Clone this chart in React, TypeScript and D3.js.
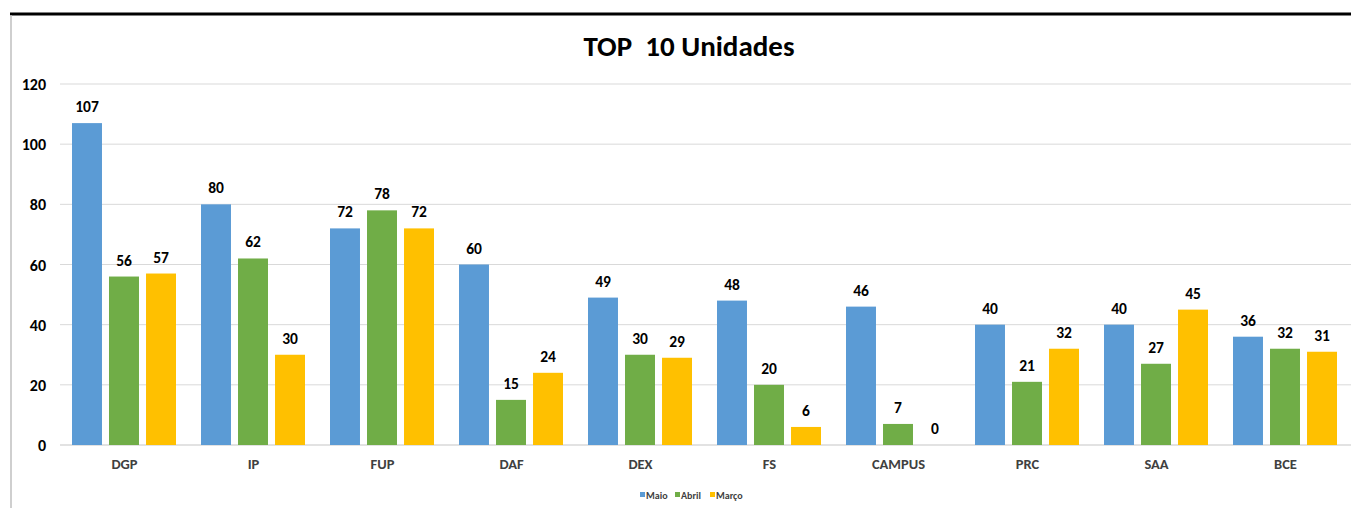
import React from "react";
import * as d3 from "d3";

const categories = ["DGP", "IP", "FUP", "DAF", "DEX", "FS", "CAMPUS", "PRC", "SAA", "BCE"];
const seriesNames = ["Maio", "Abril", "Março"];
const maio = [107, 80, 72, 60, 49, 48, 46, 40, 40, 36];
const abril = [56, 62, 78, 15, 30, 20, 7, 21, 27, 32];
const marco = [57, 30, 72, 24, 29, 6, 0, 32, 45, 31];
const yTicks = [0, 20, 40, 60, 80, 100, 120];
const colors = ["#5B9BD5", "#70AD47", "#FFC000"];

export default function App() {
  const W = 1351, H = 508;
  const series = [maio, abril, marco];
  const x0 = d3.scaleBand().domain(categories).range([60, 1350]).paddingInner(0).paddingOuter(0);
  const inner = d3.scaleBand().domain(seriesNames).range([12, x0.bandwidth() - 13]).paddingInner(0.19);
  const y = d3.scaleLinear().domain([0, 120]).range([445, 84]);
  const font = "Calibri, Carlito, Lato, 'Open Sans', 'Liberation Sans', sans-serif";
  return (
    <svg width={W} height={H} style={{ position: "absolute", left: 0, top: 0, background: "#fff" }}>
      <rect x={0} y={0} width={W} height={H} fill="#fff" />
      <line x1={10} x2={W} y1={14} y2={14} stroke="#000" strokeWidth={3} />
      <line x1={11} x2={11} y1={15} y2={H} stroke="#BFBFBF" strokeWidth={1.5} />
      <text x={689} y={56} textAnchor="middle" fontFamily={font} fontWeight="bold" fontSize={29} fill="#000" style={{ whiteSpace: "pre" }}>
        TOP  10 Unidades
      </text>
      {yTicks.map((t) => (
        <g key={t}>
          <line x1={60} x2={W} y1={y(t)} y2={y(t)} stroke="#D9D9D9" strokeWidth={t === 0 ? 1.5 : 1} />
          <text x={46} y={y(t) + 6} textAnchor="end" fontFamily={font} fontWeight="bold" fontSize={16} fill="#000">
            {t}
          </text>
        </g>
      ))}
      {categories.map((c, i) => (
        <g key={c} transform={`translate(${x0(c)},0)`}>
          {series.map((s, k) => {
            const v = s[i];
            const bx = inner(seriesNames[k])!;
            const bw = inner.bandwidth();
            return (
              <g key={k}>
                <rect x={bx} y={y(v)} width={bw} height={y(0) - y(v)} fill={colors[k]} />
                <text x={bx + bw / 2} y={y(v) - 11} textAnchor="middle" fontFamily={font} fontWeight="bold" fontSize={15.5} fill="#000">
                  {v}
                </text>
              </g>
            );
          })}
          <text x={x0.bandwidth() / 2} y={469} textAnchor="middle" fontFamily={font} fontWeight="bold" fontSize={14.5} fill="#404040">
            {c}
          </text>
        </g>
      ))}
      {seriesNames.map((n, k) => {
        const lx = [640, 675, 710][k];
        return (
          <g key={n}>
            <rect x={lx} y={492} width={5} height={5} fill={colors[k]} />
            <text x={lx + 6} y={499} fontFamily={font} fontWeight="bold" fontSize={10} fill="#404040">
              {n}
            </text>
          </g>
        );
      })}
    </svg>
  );
}
